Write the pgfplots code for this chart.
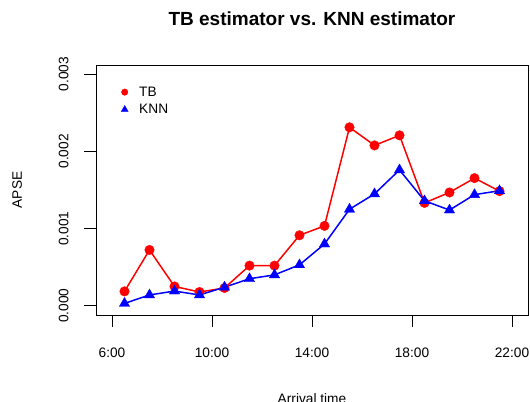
\documentclass[border=0pt]{standalone}
\usepackage{fontspec}
\setmainfont{Liberation Sans}
\usepackage{pgfplots}
\pgfplotsset{compat=1.18}

\begin{document}
\begin{tikzpicture}
\begin{axis}[
    name=ax,
    scale only axis,
    width=432bp, height=250bp,
    xmin=5.36, xmax=22.64,
    ymin=-0.00012, ymax=0.00312,
    xtick={6,10,14,18,22},
    xticklabels={6:00,10:00,14:00,18:00,22:00},
    ytick={0,0.001,0.002,0.003},
    yticklabels={0.000,0.001,0.002,0.003},
    scaled y ticks=false,
    xtick pos=bottom, ytick pos=left,
    tick align=outside,
    major tick length=11.5bp,
    tick style={black, line width=0.9bp},
    axis line style={line width=0.9bp},
    /pgf/number format/assume math mode=true,
    ticklabel style={font=\fontsize{13.7bp}{16bp}\selectfont},
    xticklabel style={yshift=-18bp},
    yticklabel style={rotate=90, anchor=base, yshift=16bp},
    title={TB estimator vs. KNN estimator},
    title style={at={(axis description cs:0.5,1)}, anchor=base, yshift=34bp,
                 font=\bfseries\fontsize{19bp}{22bp}\selectfont},
    xlabel={Arrival time},
    xlabel style={at={(axis description cs:0.5,0)}, anchor=base, yshift=-88bp,
                  font=\fontsize{13.7bp}{16bp}\selectfont},
    ylabel={APSE},
    ylabel style={at={(axis description cs:0,0.5)}, anchor=base, yshift=74bp,
                  font=\fontsize{13.7bp}{16bp}\selectfont},
    legend style={at={(axis description cs:0,1)}, anchor=north west,
                  draw=none, fill=none, xshift=22bp, yshift=-17.5bp,
                  font=\fontsize{13.7bp}{16bp}\selectfont,
                  row sep=2.5bp, column sep=9bp},
    legend cell align=left,
    legend image code/.code={%
        \draw[#1, every mark/.append style={scale=0.68}] plot[only marks] coordinates {(0.2cm,0cm)};},
]
\addplot[red, line width=1.5bp, mark=*, mark size=4.8bp,
         mark options={fill=red, draw=red, line width=0.3bp}]
    coordinates {(6.5,0.000186)(7.5,0.000723)(8.5,0.00025)(9.5,0.000178)(10.5,0.00023)(11.5,0.00052)(12.5,0.00052)(13.5,0.000913)(14.5,0.001035)(15.5,0.002312)(16.5,0.002078)(17.5,0.002208)(18.5,0.001333)(19.5,0.001468)(20.5,0.001654)(21.5,0.001485)};
\addlegendentry{TB}
\addplot[blue, line width=1.5bp, mark=triangle*, mark size=6bp,
         mark options={fill=blue, draw=blue, line width=0.3bp}]
    coordinates {(6.5,0.00003)(7.5,0.00014)(8.5,0.00019)(9.5,0.00014)(10.5,0.00024)(11.5,0.00035)(12.5,0.0004)(13.5,0.00053)(14.5,0.0008)(15.5,0.00125)(16.5,0.00145)(17.5,0.00176)(18.5,0.00136)(19.5,0.00124)(20.5,0.00144)(21.5,0.00149)};
\addlegendentry{KNN}
\end{axis}
\pgfresetboundingbox
\path[use as bounding box] ([xshift=-96bp,yshift=-87bp]ax.south west) rectangle ([xshift=2bp,yshift=65bp]ax.north east);
\end{tikzpicture}
\end{document}
